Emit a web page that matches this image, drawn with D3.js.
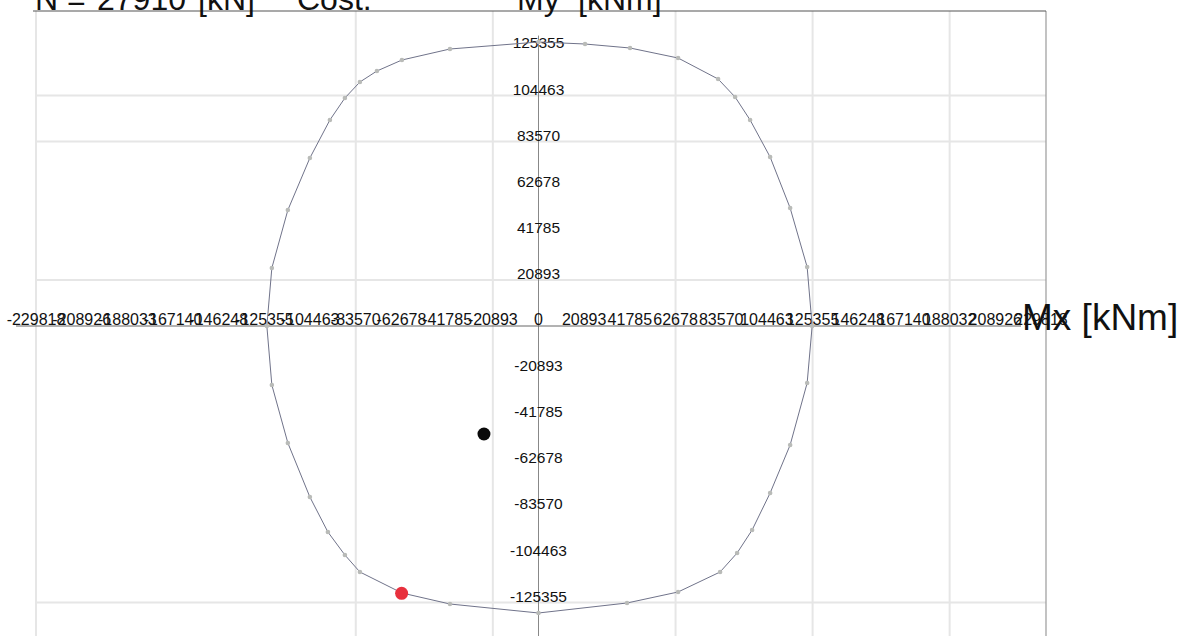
<!DOCTYPE html>
<html>
<head>
<meta charset="utf-8">
<script src="https://cdn.jsdelivr.net/npm/d3@7"></script>
<style>
  html, body { margin: 0; padding: 0; background: #fff; }
  svg { display: block; }
  text { font-family: Arial, "Liberation Sans", sans-serif; fill: #111; }
</style>
</head>
<body>
<svg id="chart" width="1192" height="636"></svg>
<script>
// Interaction domain Mx–My [kNm] for the section at the given axial load
const titleWords = ["N =", "27910", "[kN]", "Cost.", "My", "[kNm]"];
const tickStep = 20892.55;

// Tick labels along the horizontal (Mx) axis, from -11 to +11 steps
const xTickSteps = d3.range(-11, 12);
const xTickLabels = ["-229818", "-208926", "-188033", "-167140", "-146248", "-125355",
  "-104463", "-83570", "-62678", "-41785", "-20893", "0",
  "20893", "41785", "62678", "83570", "104463", "125355",
  "146248", "167140", "188032", "208926", "229818"];

// Tick labels along the vertical (My) axis, from +6 to -6 steps (0 shared with Mx)
const yTickSteps = [6, 5, 4, 3, 2, 1, -1, -2, -3, -4, -5, -6];
const yTickLabels = ["125355", "104463", "83570", "62678", "41785", "20893",
  "-20893", "-41785", "-62678", "-83570", "-104463", "-125355"];

// Grid lines that appear on the sheet, in tick steps
const xGridSteps = [-11, -4, -1, 3, 6, 9];
const yGridSteps = [5, 4, 1, -6];

// Vertices of the resistance domain boundary
const domainMx = [0, 21278, 41870, 63835, 82139, 89918, 96782, 105934, 115086, 122866,
  125154, 122866, 115086, 105934, 97698, 90834, 83054, 63835, 40498, 0,
  -40498, -62462, -81682, -88546, -96326, -104562, -114630, -121950, -124238, -121950,
  -114630, -104562, -95410, -88546, -81682, -73902, -62462, -40498];
const domainMy = [128709, 127802, 125990, 121458, 111940, 103783, 93359, 76591, 53478, 26739,
  0, -25832, -53931, -75684, -92453, -102876, -111487, -120551, -125536, -130068,
  -125990, -121004, -111487, -103783, -93359, -77497, -53024, -26739, 0, 26286,
  52571, 76138, 93359, 103330, 110581, 115566, 120551, 125536];

// Acting load point and its projection on the domain boundary
const loadMx = [-24939];
const loadMy = [-48946];
const limitMx = [-62600];
const limitMy = [-121140];

const svg = d3.select("#chart");
const W = 1192, H = 636;
svg.append("rect").attr("width", W).attr("height", H).attr("fill", "#fff");

const x = d3.scaleLinear().domain([-11 * tickStep, 11 * tickStep]).range([36, 1041]);
const y = d3.scaleLinear().domain([-6 * tickStep, 6 * tickStep]).range([602.6, 49.4]);

const frameTop = 11, frameLeft = 36, frameRight = 1046;

// sheet grid
const grid = svg.append("g");
grid.selectAll("line.vg").data(xGridSteps).join("line")
  .attr("x1", d => x(d * tickStep)).attr("x2", d => x(d * tickStep))
  .attr("y1", frameTop).attr("y2", H)
  .attr("stroke", "#e6e6e6").attr("stroke-width", 2);
grid.selectAll("line.hg").data(yGridSteps).join("line")
  .attr("x1", frameLeft).attr("x2", frameRight)
  .attr("y1", d => y(d * tickStep)).attr("y2", d => y(d * tickStep))
  .attr("stroke", "#e6e6e6").attr("stroke-width", 2);

// frame
svg.append("line").attr("x1", frameRight).attr("x2", frameRight)
  .attr("y1", frameTop).attr("y2", H).attr("stroke", "#9a9a9a").attr("stroke-width", 1.2);
svg.append("line").attr("x1", frameLeft - 3).attr("x2", frameRight)
  .attr("y1", frameTop).attr("y2", frameTop).attr("stroke", "#555").attr("stroke-width", 1.2);

// heading above the frame (runs off the top edge)
const titleX = [35, 97, 198, 297, 517, 578];
svg.append("g").selectAll("text").data(titleWords).join("text")
  .attr("x", (d, i) => titleX[i]).attr("y", 10).attr("font-size", 32)
  .text(d => d);

// axes
svg.append("line").attr("x1", x(0)).attr("x2", x(0))
  .attr("y1", y(6.3 * tickStep)).attr("y2", H)
  .attr("stroke", "#888").attr("stroke-width", 1);
svg.append("line").attr("x1", x(-11 * tickStep) - 20).attr("x2", x(11 * tickStep) - 20)
  .attr("y1", y(0)).attr("y2", y(0))
  .attr("stroke", "#666").attr("stroke-width", 1);

svg.append("g").selectAll("text").data(xTickSteps).join("text")
  .attr("x", d => x(d * tickStep)).attr("y", y(0) - 1)
  .attr("text-anchor", "middle").attr("font-size", 16)
  .text((d, i) => xTickLabels[i]);

svg.append("g").selectAll("text").data(yTickSteps).join("text")
  .attr("x", x(0)).attr("y", d => y(d * tickStep) - 1)
  .attr("text-anchor", "middle").attr("font-size", 15.5)
  .text((d, i) => yTickLabels[i]);

svg.append("text").attr("x", 1022).attr("y", y(0) + 4).attr("font-size", 37).text("Mx [kNm]");

// domain boundary
const pts = domainMx.map((v, i) => [v, domainMy[i]]);
svg.append("path")
  .attr("d", d3.line().x(d => x(d[0])).y(d => y(d[1])).curve(d3.curveLinearClosed)(pts))
  .attr("fill", "none").attr("stroke", "#70738a").attr("stroke-width", 1);
svg.append("g").selectAll("circle").data(pts).join("circle")
  .attr("cx", d => x(d[0])).attr("cy", d => y(d[1])).attr("r", 2.3)
  .attr("fill", "#b9bbb8");

// load point and limit point
svg.append("g").selectAll("circle").data(loadMx).join("circle")
  .attr("cx", d => x(d)).attr("cy", (d, i) => y(loadMy[i])).attr("r", 6.5)
  .attr("fill", "#0a0a0a");
svg.append("g").selectAll("circle").data(limitMx).join("circle")
  .attr("cx", d => x(d)).attr("cy", (d, i) => y(limitMy[i])).attr("r", 6.5)
  .attr("fill", "#e8303d");
</script>
</body>
</html>
